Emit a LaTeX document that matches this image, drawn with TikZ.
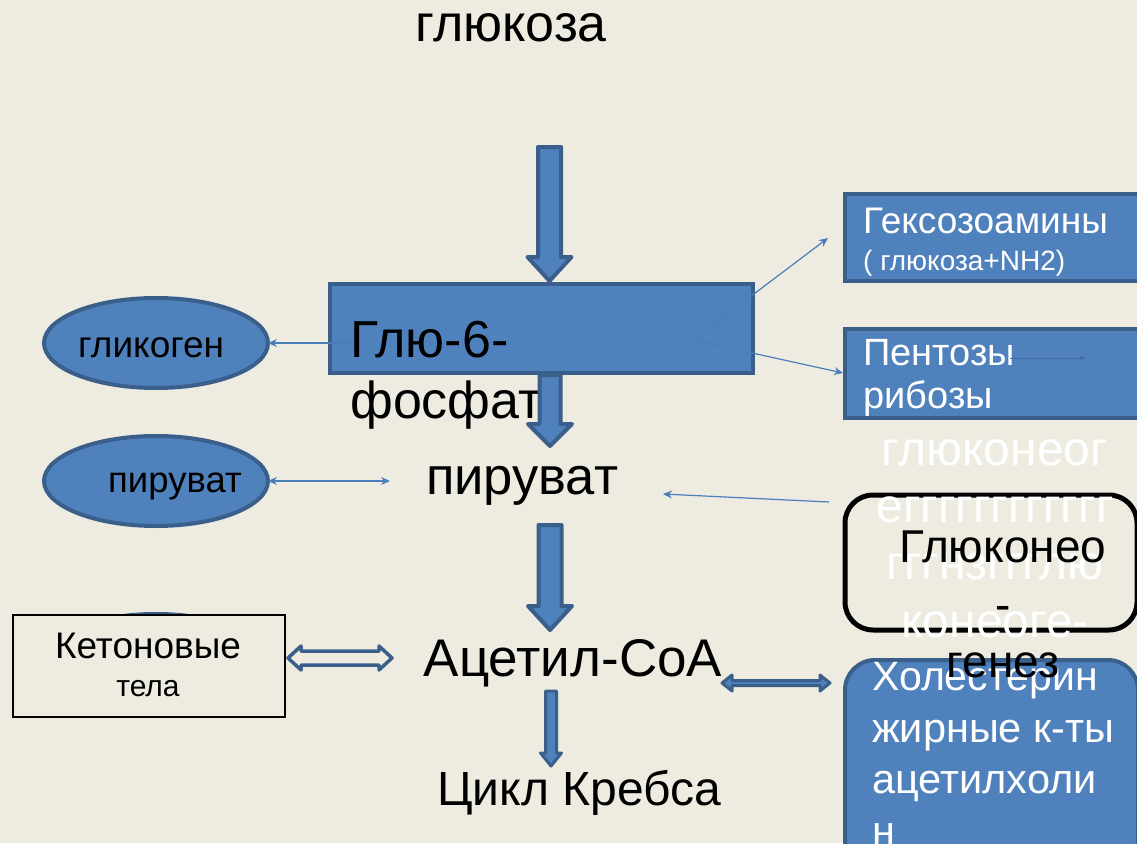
\documentclass[tikz,border=0pt]{standalone}
\usepackage{fontspec}
\setmainfont{Liberation Sans}
\usetikzlibrary{calc,arrows.meta}
\definecolor{bg}{HTML}{EEECE1}
\definecolor{blu}{HTML}{4F81BD}
\definecolor{dblu}{HTML}{3A5F8B}
\definecolor{lblu}{HTML}{4A7EBB}
\newcommand\myfs[1]{\fontsize{#1}{#1}\selectfont}
% vertical block arrow: start, end, half shaft, half head, head length
\newcommand\vblock[6]{%
  \draw[#6] ($(#1)+(-#3,0)$) -- ($(#1)+(#3,0)$) -- ($(#2)+(#3,-#5)$) -- ($(#2)+(#4,-#5)$) -- (#2)
    -- ($(#2)+(-#4,-#5)$) -- ($(#2)+(-#3,-#5)$) -- cycle;}
% horizontal double block arrow: left tip, right tip, half shaft, half head, head length
\newcommand\hdouble[6]{%
  \draw[#6] (#1) -- ($(#1)+(#5,-#4)$) -- ($(#1)+(#5,-#3)$) -- ($(#2)+(-#5,-#3)$) -- ($(#2)+(-#5,-#4)$) -- (#2)
    -- ($(#2)+(-#5,#4)$) -- ($(#2)+(-#5,#3)$) -- ($(#1)+(#5,#3)$) -- ($(#1)+(#5,#4)$) -- cycle;}
\tikzset{
  blockarrow/.style={fill=blu, draw=dblu, line width=4pt, line join=round},
  smallblock/.style={fill=blu, draw=dblu, line width=3pt, line join=round},
  hollowarrow/.style={fill=bg, draw=dblu, line width=3.5pt, line join=round},
  bluebox/.style={fill=blu, draw=dblu, line width=4pt},
  thin/.style={draw=lblu, line width=1.2pt, -{Stealth[length=9pt,width=8pt,inset=3pt]}},
  thinboth/.style={draw=lblu, line width=1.2pt, {Stealth[length=9pt,width=8pt,inset=3pt]}-{Stealth[length=9pt,width=8pt,inset=3pt]}},
  lbl/.style={inner sep=0pt, text=black},
  wlbl/.style={inner sep=0pt, text=white},
}
\begin{document}
\begin{tikzpicture}[x=1pt,y=-1pt]
\useasboundingbox (0,0) rectangle (1137,843);
\clip (0,0) rectangle (1137,843);
\fill[bg] (0,0) rectangle (1137,843);

% top label
\node[lbl, anchor=base, font=\myfs{52}] (glc) at (511,42) {глюкоза};

% left ellipses
\draw[bluebox] (156,659) ellipse [x radius=112, y radius=45];
\draw[bluebox] (156,343) ellipse [x radius=112, y radius=45];
\coordinate (glycE) at (268,343);
\node[lbl, anchor=base west, font=\myfs{37}] (glyc) at (78,357) {гликоген};
\draw[bluebox] (156,481) ellipse [x radius=112, y radius=45];
\coordinate (pyrE) at (268,481);
\node[lbl, anchor=base west, font=\myfs{36.5}] (pyrL) at (108,492) {пируват};

% big arrow glucose -> G6P
\coordinate (a1s) at (549.5,147);
\coordinate (a1e) at (549.5,281);
\vblock{a1s}{a1e}{11.5}{22}{24}{blockarrow}

% G6P box
\draw[bluebox] (330,284) rectangle (753,373);
\node[lbl, anchor=base west, font=\myfs{52}] (g6p) at (350,357) {Глю-6-};
\node[lbl, anchor=base west, font=\myfs{52}] (g6p2) at (350,418) {фосфат};

% arrow G6P -> pyruvate
\coordinate (a2s) at (550,375);
\coordinate (a2e) at (550,446);
\vblock{a2s}{a2e}{10.5}{22}{22}{blockarrow}

% right boxes
\draw[bluebox] (845,194) rectangle (1160,281);
\node[wlbl, anchor=base west, font=\myfs{37}] (hex) at (863,233) {Гексозоамины};
\node[wlbl, anchor=base west, font=\myfs{28}] (hex2) at (863,270) {( глюкоза+NH2)};
\draw[bluebox] (845,329) rectangle (1160,418);
\node[wlbl, anchor=base west, font=\myfs{38}] (pent) at (863,365) {Пентозы};
\node[wlbl, anchor=base west, font=\myfs{38}] (pent2) at (863,408) {рибозы};
\coordinate (pf1) at (1010,358);
\coordinate (pf2) at (1085,358);
\draw[draw=dblu!60!blu, line width=0.8pt, -{Stealth[length=6pt,width=5pt]}] (pf1) -- (pf2);

% thin arrows from G6P
\coordinate (g6pin) at (693,340);
\coordinate (hexin) at (828,238);
\coordinate (pentin) at (843,373);
\coordinate (g6pl) at (353,343);
\draw[thin] (g6pin) -- (hexin);
\draw[thin] (g6pin) -- (pentin);
\draw[thin] (g6pl) -- (glycE);

% pyruvate center
\node[lbl, anchor=base, font=\myfs{52.5}] (pyr) at (522,494) {пируват};
\coordinate (pyrW) at (390,481);
\draw[thinboth] (pyrE) -- (pyrW);

% arrow pyruvate -> acetyl-CoA
\coordinate (a3s) at (550,525);
\coordinate (a3e) at (550,630);
\vblock{a3s}{a3e}{11.5}{22}{24}{blockarrow}

% acetyl-CoA
\node[lbl, anchor=base, font=\myfs{53}] (acoa) at (573,676) {Ацетил-СоА};

% arrow acetyl-CoA -> Krebs
\coordinate (a4s) at (551,691);
\coordinate (a4e) at (551,766);
\vblock{a4s}{a4e}{5.5}{10.5}{13}{smallblock}
\node[lbl, anchor=base, font=\myfs{48}] (krebs) at (579,805) {Цикл Кребса};

% ketone bodies
\node[draw=black, line width=1.5pt, fill=bg, minimum width=272pt, minimum height=102pt, inner sep=0pt] (ket) at (149,666) {};
\node[lbl, anchor=base, font=\myfs{37}] (ketL) at (148,658) {Кетоновые};
\node[lbl, anchor=base, font=\myfs{30}] (ketL2) at (148,696) {тела};
\coordinate (hk1) at (288,658);
\coordinate (hk2) at (392,658);
\hdouble{hk1}{hk2}{7}{12}{13}{hollowarrow}

% cholesterol box
\draw[bluebox, rounded corners=30pt] (845,660) rectangle (1138,870);
\node[wlbl, anchor=base west, font=\myfs{41}] (chol) at (872,690) {Холестерин};
\node[wlbl, anchor=base west, font=\myfs{41.5}] (chol2) at (872,742) {жирные к-ты};
\node[wlbl, anchor=base west, font=\myfs{41.5}] (chol3) at (872,793) {ацетилхоли};
\node[wlbl, anchor=base west, font=\myfs{41.5}] (chol4) at (872,845) {н};
\coordinate (hc1) at (722,683);
\coordinate (hc2) at (830,683);
\hdouble{hc1}{hc2}{2.5}{8}{10}{smallblock}

% gluconeogenesis box
\draw[black, line width=5pt, rounded corners=28pt] (845,495) rectangle (1137,630);
\node[wlbl, anchor=base, font=\myfs{48}] (gh1) at (995,465) {глюконеог};
\node[wlbl, anchor=base, font=\myfs{48}] (gh2) at (995,522) {егггггггггггг};
\node[wlbl, anchor=base, font=\myfs{48}] (gh3) at (995,579) {гггнзггглю};
\node[wlbl, anchor=base, font=\myfs{48}] (gh4) at (995,637) {конеоге-};
\node[lbl, anchor=base, font=\myfs{46}] (gn1) at (1003,562) {Глюконео};
\node[lbl, anchor=base, font=\myfs{46}] (gn2) at (1003,620) {-};
\node[lbl, anchor=base, font=\myfs{46}] (gn3) at (1003,677) {генез};
\coordinate (gnW) at (829,502);
\coordinate (pyrR) at (663,494);
\draw[thin] (gnW) -- (pyrR);
\end{tikzpicture}
\end{document}
